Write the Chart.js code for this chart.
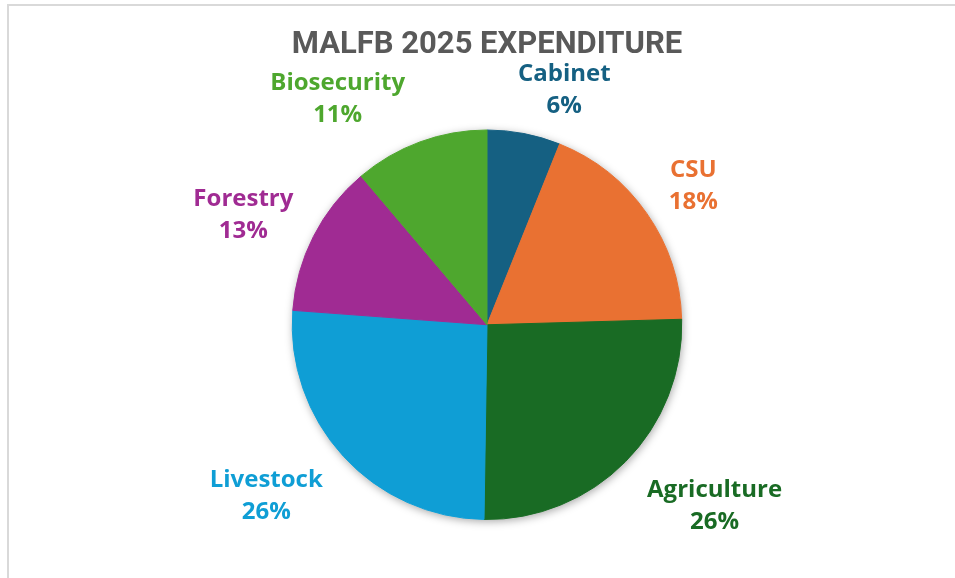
<!DOCTYPE html>
<html>
<head>
<meta charset="utf-8">
<script src="https://cdn.jsdelivr.net/npm/chart.js@4.4.1/dist/chart.umd.min.js"></script>
<style>
  html, body { margin: 0; padding: 0; background: #ffffff; }
  #wrap { position: relative; width: 955px; height: 578px; overflow: hidden; }
  #frame { position: absolute; left: 7px; top: 4px; width: 2000px; height: 2000px;
           border-left: 2px solid #d9d9d9; border-top: 2px solid #d9d9d9; z-index: 0; }
  canvas { position: absolute; left: 0; top: 0; z-index: 1; }
</style>
</head>
<body>
<div id="wrap">
  <div id="frame"></div>
  <canvas id="c" width="955" height="578"></canvas>
</div>
<script>
// ---- data ----
const categories = ["Cabinet", "CSU", "Agriculture", "Livestock", "Forestry", "Biosecurity"];
const expenditureShare = [6.08, 18.47, 25.69, 25.93, 12.63, 11.19];
const sliceColors = ["#156082", "#E97132", "#196B24", "#0F9ED5", "#A02B93", "#4EA72E"];
const chartTitle = "MALFB 2025 EXPENDITURE";

// label layout tweaks (pixels), relative to computed outside-end position
const labelNudge = [[30, 10], [2, 4], [28, -16], [-19, -13], [-3, 13], [-59, 21]];

const shadowPlugin = {
  id: 'pieShadow',
  beforeDatasetsDraw(chart) {
    const arc = chart.getDatasetMeta(0).data[0];
    if (!arc) return;
    const ctx = chart.ctx;
    ctx.save();
    ctx.beginPath();
    ctx.arc(arc.x, arc.y, arc.outerRadius, 0, Math.PI * 2);
    ctx.fillStyle = '#ffffff';
    ctx.shadowColor = 'rgba(0,0,0,0.35)';
    ctx.shadowBlur = 9;
    ctx.shadowOffsetX = 1;
    ctx.shadowOffsetY = 2;
    ctx.fill();
    ctx.restore();
  }
};

const labelPlugin = {
  id: 'outsideLabels',
  afterDatasetsDraw(chart) {
    const ctx = chart.ctx;
    const meta = chart.getDatasetMeta(0);
    const data = chart.data.datasets[0].data;
    const total = data.reduce((a, b) => a + b, 0);
    const lineGap = 32;
    const gap = 18;
    ctx.save();
    ctx.font = '700 24px "Open Sans"';
    ctx.textAlign = 'center';
    ctx.textBaseline = 'middle';
    meta.data.forEach((arc, i) => {
      const p = arc.getProps(['x', 'y', 'startAngle', 'endAngle', 'outerRadius'], true);
      const mid = (p.startAngle + p.endAngle) / 2;
      const dx = Math.cos(mid), dy = Math.sin(mid);
      const name = chart.data.labels[i];
      const pct = Math.round(data[i] / total * 100) + '%';
      const w = Math.max(ctx.measureText(name).width, ctx.measureText(pct).width);
      const h = lineGap + 24;
      const d = p.outerRadius + gap + Math.abs(dx) * w / 2 + Math.abs(dy) * h / 2;
      const cx = p.x + dx * d + labelNudge[i][0];
      const cy = p.y + dy * d + labelNudge[i][1];
      ctx.fillStyle = sliceColors[i];
      ctx.fillText(name, cx, cy - lineGap / 2);
      ctx.fillText(pct, cx, cy + lineGap / 2);
    });
    ctx.restore();
  }
};

new Chart(document.getElementById('c'), {
  type: 'pie',
  data: {
    labels: categories,
    datasets: [{
      data: expenditureShare,
      backgroundColor: sliceColors,
      borderColor: sliceColors,
      borderWidth: 1,
      hoverOffset: 0
    }]
  },
  options: {
    responsive: false,
    devicePixelRatio: 1,
    animation: false,
    events: [],
    layout: { padding: { top: 26.4, bottom: 58, left: 200, right: 181 } },
    plugins: {
      legend: { display: false },
      tooltip: { enabled: false },
      title: {
        display: true,
        text: chartTitle,
        color: '#595959',
        font: { family: 'Roboto', size: 31, weight: 'bold', lineHeight: 1.2 },
        padding: { top: 0, bottom: 65.9 }
      }
    }
  },
  plugins: [shadowPlugin, labelPlugin]
});
</script>
</body>
</html>
